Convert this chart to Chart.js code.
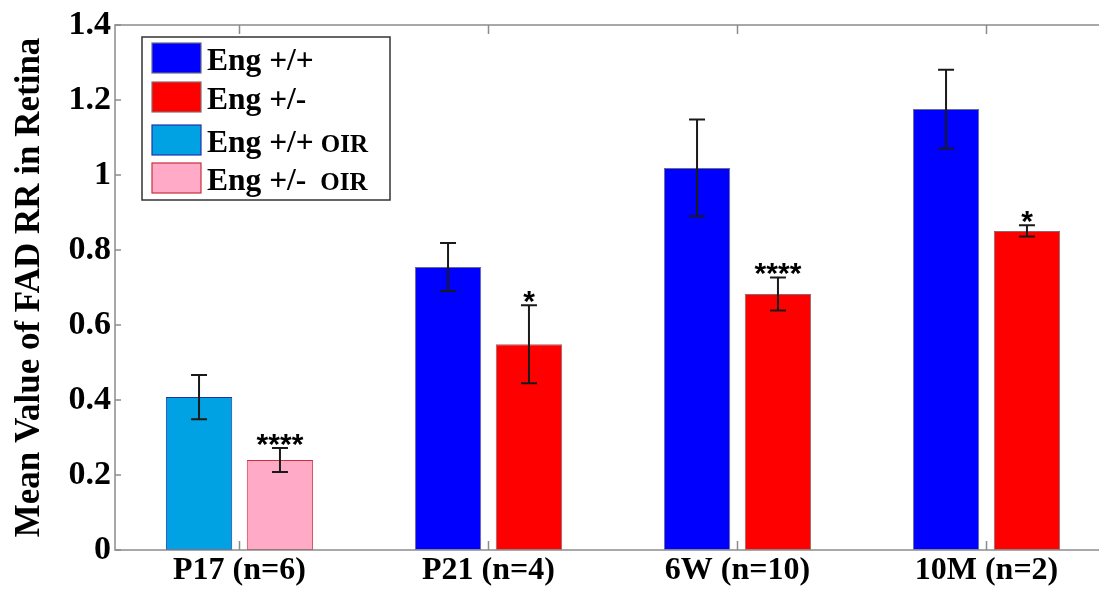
<!DOCTYPE html>
<html>
<head>
<meta charset="utf-8">
<script src="https://cdn.jsdelivr.net/npm/chart.js@4.4.0/dist/chart.umd.min.js"></script>
<style>
  html, body { margin: 0; padding: 0; background: #fff; overflow: hidden; }
  /* plot runs past the right edge of the window, like the cropped original */
  #wrap { width: 1130px; height: 589px; position: relative; }
</style>
</head>
<body>
<div id="wrap"><canvas id="chart"></canvas></div>
<script>
const categories = ["P17 (n=6)", "P21 (n=4)", "6W (n=10)", "10M (n=2)"];
const engWT = [null, 0.755, 1.019, 1.176];
const engWTErr = [null, 0.064, 0.129, 0.105];
const engHet = [null, 0.549, 0.683, 0.851];
const engHetErr = [null, 0.104, 0.044, 0.015];
const engWTOIR = [0.408, null, null, null];
const engWTOIRErr = [0.059, null, null, null];
const engHetOIR = [0.240, null, null, null];
const engHetOIRErr = [0.032, null, null, null];
const sigMarks = ["****", "*", "****", "*"];
const yTicks = [0, 0.2, 0.4, 0.6, 0.8, 1, 1.2, 1.4];

const SERIF = '"Liberation Serif", "Times New Roman", serif';
const AXIS = '#8c8c8c';

const decorations = {
    id: 'decorations',
    afterDatasetsDraw(chart) {
        const { ctx, chartArea: a, scales: { x, y } } = chart;
        ctx.save();
        // error bars + significance stars
        chart.data.datasets.forEach((ds, i) => {
            chart.getDatasetMeta(i).data.forEach((bar, j) => {
                const v = ds.data[j], e = ds.errors[j];
                if (v == null || e == null) return;
                const top = y.getPixelForValue(v + e), bot = y.getPixelForValue(v - e);
                ctx.strokeStyle = '#1a1a1a'; ctx.lineWidth = 2;
                ctx.beginPath();
                ctx.moveTo(bar.x, top); ctx.lineTo(bar.x, bot);
                ctx.moveTo(bar.x - 8, top); ctx.lineTo(bar.x + 8, top);
                ctx.moveTo(bar.x - 8, bot); ctx.lineTo(bar.x + 8, bot);
                ctx.stroke();
                if (ds.sig && sigMarks[j]) {
                    ctx.fillStyle = '#000';
                    ctx.font = 'bold 30px "Liberation Sans", Arial, sans-serif';
                    ctx.textAlign = 'center'; ctx.textBaseline = 'alphabetic';
                    ctx.fillText(sigMarks[j], bar.x, top + 6);
                }
            });
        });
        // matlab style box with inward ticks
        ctx.strokeStyle = AXIS; ctx.lineWidth = 1.5;
        ctx.strokeRect(a.left, a.top, a.width, a.height);
        ctx.beginPath();
        y.ticks.forEach((t, k) => {
            const py = y.getPixelForTick(k);
            ctx.moveTo(a.left, py); ctx.lineTo(a.left + 6, py);
            ctx.moveTo(a.right, py); ctx.lineTo(a.right - 6, py);
        });
        x.ticks.forEach((t, k) => {
            const px = x.getPixelForTick(k);
            ctx.moveTo(px, a.bottom); ctx.lineTo(px, a.bottom - 9);
            ctx.moveTo(px, a.top); ctx.lineTo(px, a.top + 9);
        });
        ctx.stroke();
        ctx.restore();
    },
    afterDraw(chart) {
        const { ctx } = chart;
        const bx = 142, by = 37, bw = 248, bh = 163;
        const rowTops = [43, 82, 125, 163];
        ctx.save();
        ctx.fillStyle = '#fff'; ctx.fillRect(bx, by, bw, bh);
        ctx.strokeStyle = '#333'; ctx.lineWidth = 1.5; ctx.strokeRect(bx, by, bw, bh);
        chart.data.datasets.forEach((ds, i) => {
            const t = rowTops[i];
            ctx.fillStyle = ds.backgroundColor; ctx.fillRect(152, t, 49, 30);
            ctx.strokeStyle = ds.borderColor; ctx.lineWidth = 1.2; ctx.strokeRect(152, t, 49, 30);
            const m = ds.label.match(/^(.*?)(\s+)(OIR)$/);
            const main = m ? m[1] : ds.label;
            ctx.fillStyle = '#000'; ctx.textAlign = 'left'; ctx.textBaseline = 'alphabetic';
            ctx.font = `bold 31.5px ${SERIF}`;
            ctx.fillText(main, 207, t + 27);
            if (m) {
                const w = ctx.measureText(main).width;
                ctx.font = `bold 25px ${SERIF}`;
                ctx.fillText(m[3], 207 + w + m[2].length * 7, t + 27);
            }
        });
        ctx.restore();
    }
};

const barStyle = { borderWidth: 1, borderSkipped: false, skipNull: true };

new Chart(document.getElementById('chart'), {
    type: 'bar',
    data: {
        labels: categories,
        datasets: [
            { label: 'Eng +/+', data: engWT, errors: engWTErr, backgroundColor: '#0000ff', borderColor: '#6a6a8a', ...barStyle },
            { label: 'Eng +/-', data: engHet, errors: engHetErr, sig: true, backgroundColor: '#ff0000', borderColor: '#8a6a6a', ...barStyle },
            { label: 'Eng +/+ OIR', data: engWTOIR, errors: engWTOIRErr, backgroundColor: '#00a2e4', borderColor: '#2233aa', ...barStyle },
            { label: 'Eng +/-  OIR', data: engHetOIR, errors: engHetOIRErr, sig: true, backgroundColor: '#ffabc8', borderColor: '#c8303c', ...barStyle }
        ]
    },
    options: {
        responsive: true, maintainAspectRatio: false, animation: false,
        layout: { padding: { top: 25, right: 19, left: 0, bottom: 0 } },
        datasets: { bar: { categoryPercentage: 0.65, barPercentage: 0.82 } },
        plugins: { legend: { display: false }, tooltip: { enabled: false } },
        scales: {
            x: {
                afterFit: s => { s.height = 39; },
                grid: { display: false, drawTicks: false }, border: { display: false },
                ticks: { color: '#000', font: { family: SERIF, size: 32, weight: 'bold' }, padding: 2, autoSkip: false, maxRotation: 0 }
            },
            y: {
                min: 0, max: 1.4,
                afterBuildTicks: s => { s.ticks = yTicks.map(v => ({ value: v })); },
                afterFit: s => { s.width = 115; },
                grid: { display: false, drawTicks: false }, border: { display: false },
                ticks: { color: '#000', font: { family: SERIF, size: 34, weight: 'bold' }, padding: 4, callback: v => String(+v.toFixed(1)) },
                title: { display: true, text: 'Mean Value of FAD RR in Retina', color: '#000', font: { family: SERIF, size: 35, weight: 'bold' }, padding: { top: 9, bottom: 0 } }
            }
        }
    },
    plugins: [decorations]
});
</script>
</body>
</html>
